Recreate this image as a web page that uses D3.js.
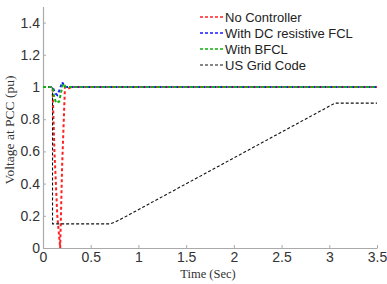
<!DOCTYPE html>
<html>
<head>
<meta charset="utf-8">
<script src="https://cdn.jsdelivr.net/npm/d3@7"></script>
<style>
  body { margin: 0; background: #fff; }
  svg { display: block; }
</style>
</head>
<body>
<svg id="chart" width="387" height="284"></svg>
<script>
// ---- DATA ----
const xTicks = [0, 0.5, 1, 1.5, 2, 2.5, 3, 3.5];
const yTicks = [0, 0.2, 0.4, 0.6, 0.8, 1, 1.2, 1.4];

const noController = [[0, 1], [0.1, 1], [0.12, 0.6], [0.15, 0.2], [0.18, 0], [0.2, 0.5], [0.23, 1], [0.26, 0.99], [0.3, 1], [3.5, 1]];
const dcFcl = [[0, 1], [0.1, 1], [0.13, 0.96], [0.15, 0.95], [0.18, 0.99], [0.2, 1.03], [0.23, 1], [3.5, 1]];
const bfcl = [[0, 1], [0.1, 1], [0.12, 0.93], [0.14, 0.9], [0.17, 0.91], [0.19, 0.97], [0.21, 1.02], [0.24, 1], [3.5, 1]];
const gridCode = [[0, 1], [0.1, 1], [0.1, 0.15], [0.7, 0.15], [0.75, 0.16], [0.85, 0.19], [3.06, 0.9], [3.5, 0.9]];

const seriesNames = ["No Controller", "With DC resistive FCL", "With BFCL", "US Grid Code"];
const seriesColors = ["#ff2020", "#1a1aff", "#10b010", "#111111"];

// ---- LAYOUT ----
const svg = d3.select("#chart");
const x = d3.scaleLinear().domain([0, 3.5]).range([43, 377]);
const y = d3.scaleLinear().domain([0, 1.5]).range([248, 6.5]);

// axes (left + bottom only, inward ticks)
const xAxis = svg.append("g")
  .attr("transform", `translate(0,${y(0)})`)
  .call(d3.axisBottom(x).tickValues(xTicks).tickSizeInner(-3).tickSizeOuter(0).tickPadding(4)
    .tickFormat(d3.format("")));
const yAxis = svg.append("g")
  .attr("transform", `translate(${x(0)},0)`)
  .call(d3.axisLeft(y).tickValues(yTicks).tickSizeInner(-3).tickSizeOuter(0).tickPadding(3)
    .tickFormat(d3.format("")));

[xAxis, yAxis].forEach(a => {
  a.select(".domain").attr("stroke", "#aaa").attr("stroke-width", 1.2);
  a.selectAll(".tick line").attr("stroke", "#aaa");
  a.selectAll(".tick text")
    .attr("fill", "#333")
    .attr("font-family", "Liberation Sans, Arial, sans-serif")
    .attr("font-size", 14);
});

// axis titles
svg.append("text")
  .attr("x", 208).attr("y", 278)
  .attr("text-anchor", "middle")
  .attr("font-family", "Liberation Serif, Times New Roman, serif")
  .attr("font-size", 12.5)
  .attr("fill", "#333")
  .text("Time (Sec)");

svg.append("text")
  .attr("transform", "translate(14,130) rotate(-90)")
  .attr("text-anchor", "middle")
  .attr("font-family", "Liberation Serif, Times New Roman, serif")
  .attr("font-size", 13.5)
  .attr("fill", "#333")
  .text("Voltage at PCC (pu)");

// lines
const line = d3.line().x(d => x(d[0])).y(d => y(d[1]));
const allSeries = [noController, gridCode, dcFcl, bfcl];
const order = [0, 3, 1, 2];
allSeries.forEach((s, i) => {
  const k = order[i];
  svg.append("path")
    .datum(s)
    .attr("d", line)
    .attr("fill", "none")
    .attr("stroke", seriesColors[k])
    .attr("stroke-width", k === 3 ? 1.1 : 2)
    .attr("stroke-dasharray", k === 3 ? "3,2" : "3,2.5");
});

// legend
const legend = svg.append("g").attr("transform", "translate(200,17)");
seriesNames.forEach((name, i) => {
  const g = legend.append("g").attr("transform", `translate(0,${i * 16})`);
  g.append("line")
    .attr("x1", 0).attr("x2", 23).attr("y1", 0).attr("y2", 0)
    .attr("stroke", seriesColors[i])
    .attr("stroke-width", i === 3 ? 1.1 : 1.6)
    .attr("stroke-dasharray", "3,2");
  g.append("text")
    .attr("x", 25).attr("y", 4.5)
    .attr("font-family", "Liberation Sans, Arial, sans-serif")
    .attr("font-size", 13)
    .attr("fill", "#222")
    .text(name);
});
</script>
</body>
</html>
